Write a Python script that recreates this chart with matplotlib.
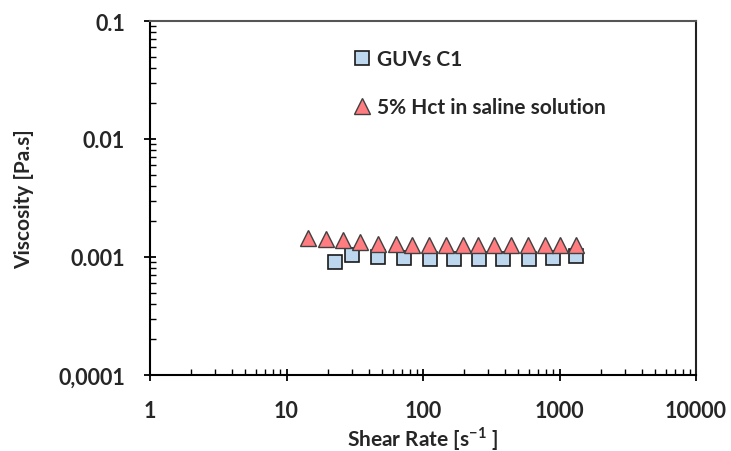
import matplotlib
matplotlib.use("Agg")
import matplotlib.pyplot as plt
from matplotlib.ticker import LogLocator, FixedLocator, FixedFormatter, NullFormatter

plt.rcParams['font.family'] = ['Lato', 'DejaVu Sans']
plt.rcParams['mathtext.fontset'] = 'custom'
plt.rcParams['mathtext.rm'] = 'Lato'
plt.rcParams['mathtext.bf'] = 'Lato:bold'

# Data
guv_rate = [22.6, 30.0, 46.6, 72.6, 112, 169, 257, 386, 598, 901, 1321]
guv_visc = [0.000912, 0.00104, 0.000993, 0.000975, 0.000962, 0.000962,
            0.000962, 0.000962, 0.000962, 0.000985, 0.00101]
hct_rate = [14.4, 19.5, 25.8, 34.5, 47.1, 63.1, 83.5, 110.6, 146.6, 195.4,
            254, 333, 441, 591, 783, 1009, 1321]
hct_visc = [0.00145, 0.00143, 0.00139, 0.00134, 0.00130, 0.00128, 0.00126,
            0.00126, 0.00126, 0.00126, 0.00126, 0.00126, 0.00126, 0.00126,
            0.00126, 0.00126, 0.00126]

x_ticks = [1, 10, 100, 1000, 10000]
x_labels = ["1", "10", "100", "1000", "10000"]
y_ticks = [0.0001, 0.001, 0.01, 0.1]
y_labels = ["0,0001", "0.001", "0.01", "0.1"]

fig = plt.figure(figsize=(7.31, 4.52), dpi=100)
ax = fig.add_axes([150/731, 1-376/452, 546/731, 354/452])

ax.set_xscale('log')
ax.set_yscale('log')
ax.set_xlim(1, 10000)
ax.set_ylim(0.0001, 0.1)

ax.plot(guv_rate, guv_visc, linestyle='none', marker='s', markersize=9.5,
        markerfacecolor='#BDD7EE', markeredgecolor='#1a1a1a', markeredgewidth=1.2,
        label='GUVs C1', zorder=3)
ax.plot(hct_rate, hct_visc, linestyle='none', marker='^', markersize=11,
        markerfacecolor='#FF7C80', markeredgecolor='#404040', markeredgewidth=1.0,
        label='5% Hct in saline solution', zorder=4)

ax.xaxis.set_major_locator(FixedLocator(x_ticks))
ax.xaxis.set_major_formatter(FixedFormatter(x_labels))
ax.yaxis.set_major_locator(FixedLocator(y_ticks))
ax.yaxis.set_major_formatter(FixedFormatter(y_labels))
ax.xaxis.set_minor_locator(LogLocator(base=10, subs=range(2, 10), numticks=20))
ax.yaxis.set_minor_locator(LogLocator(base=10, subs=range(2, 10), numticks=20))
ax.xaxis.set_minor_formatter(NullFormatter())
ax.yaxis.set_minor_formatter(NullFormatter())

ax.tick_params(which='major', direction='inout', length=8, width=1.3,
               color='black', labelsize=15.5, labelcolor='#262626')
ax.tick_params(which='minor', direction='in', length=4.5, width=1.0, color='black')
ax.tick_params(top=False, right=False, which='both')
for lab in ax.get_xticklabels() + ax.get_yticklabels():
    lab.set_fontweight('bold')
ax.tick_params(axis='y', pad=14)
ax.tick_params(axis='x', pad=14)

for s in ax.spines.values():
    s.set_linewidth(1.5)
    s.set_color('black')
ax.spines['top'].set_color('#555555')
ax.spines['right'].set_color('#222222')

ax.set_xlabel(r'Shear Rate [s$^{\mathbf{-1}}$ ]', fontsize=15, fontweight='bold',
              color='#262626', labelpad=2)
ax.set_ylabel('Viscosity [Pa.s]', fontsize=15, fontweight='bold',
              color='#262626', labelpad=17)

leg = ax.legend(loc='upper left', bbox_to_anchor=(0.35, 0.945), frameon=False,
                prop={'weight': 'bold', 'size': 15},
                handletextpad=0.1, labelspacing=1.35, handlelength=1.2,
                borderaxespad=0)
for t in leg.get_texts():
    t.set_color('#262626')

fig.savefig('out.png', dpi=100)
